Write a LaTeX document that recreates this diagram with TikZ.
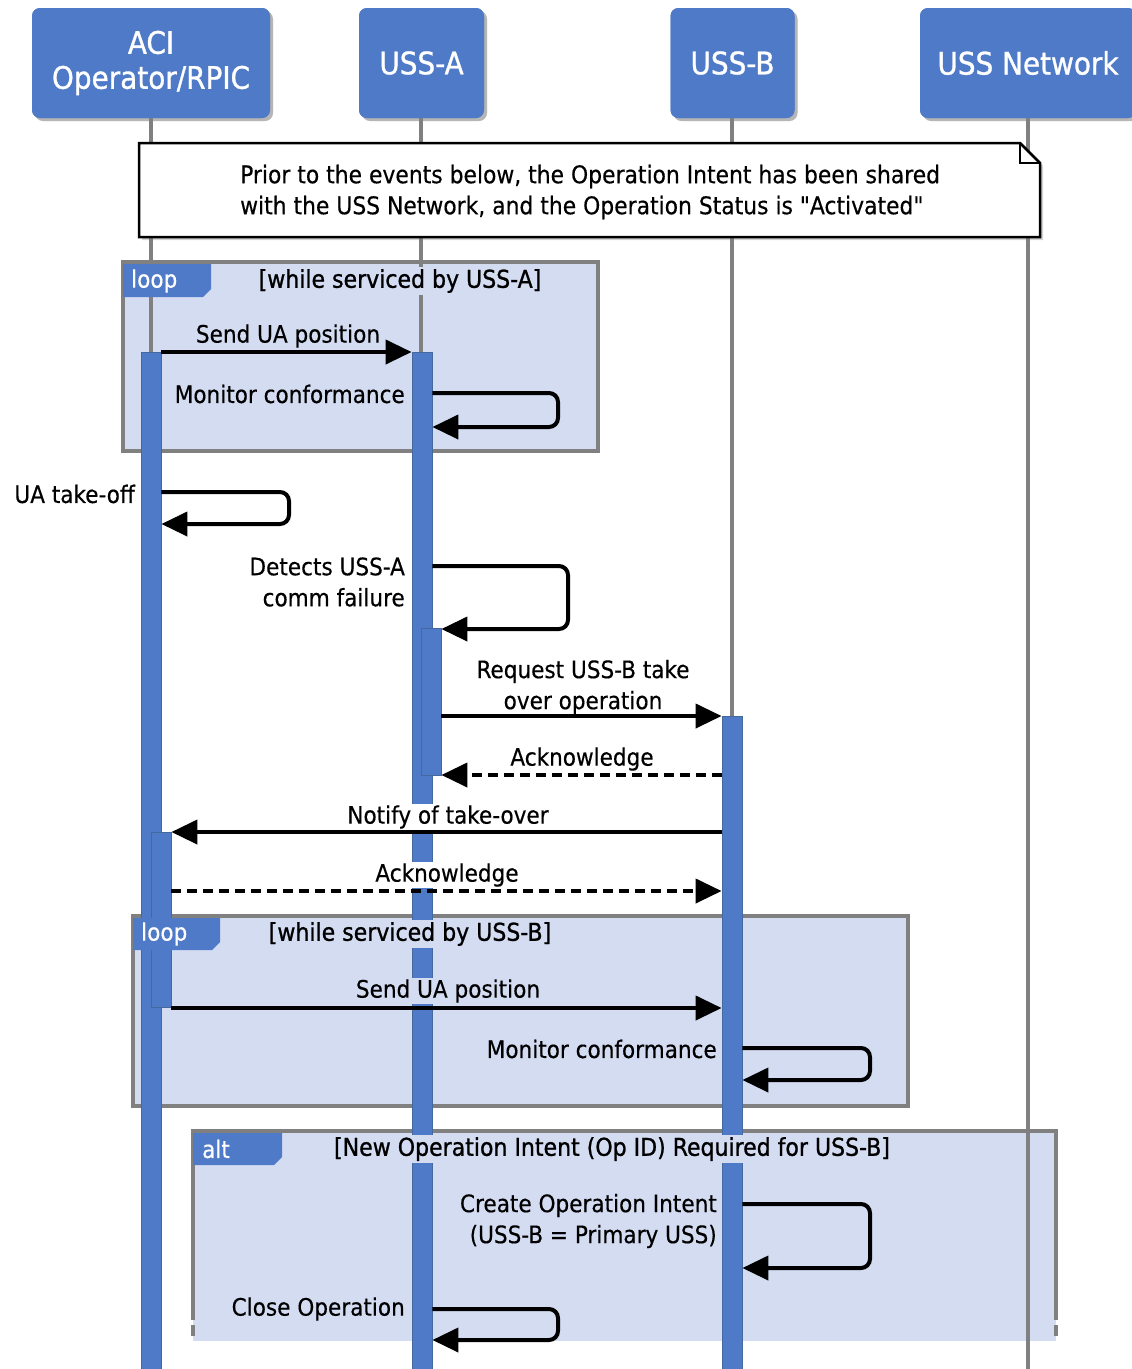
\documentclass[tikz,border=0pt]{standalone}
\usepackage{fontspec}
\setmainfont{DejaVu Sans Condensed}[FakeBold=0.4]
\newfontfamily\heavyfont{DejaVu Sans Condensed}[FakeBold=1]
\usetikzlibrary{arrows.meta,shadows}
\definecolor{partblue}{HTML}{4F7AC7}
\definecolor{bardraw}{HTML}{44699F}
\definecolor{framefill}{HTML}{D4DCF2}
\definecolor{lifegrey}{HTML}{808080}
% straight double quote, set as a glyph so that no ligature mapping touches it
\newcommand{\sdq}{\XeTeXglyph\XeTeXglyphindex "quotedbl"\relax}
\begin{document}
\begin{tikzpicture}[x=1pt,y=-1pt,
  participant/.style={fill=partblue, rounded corners=8pt, text=white,
    font=\heavyfont\fontsize{31}{35}\selectfont, align=center, minimum height=110pt,
    inner sep=0pt, drop shadow={shadow xshift=3pt,shadow yshift=-3pt,opacity=0.35}},
  lifeline/.style={draw=lifegrey, line width=4pt},
  actbar/.style={fill=partblue, draw=bardraw, line width=0.8pt, minimum width=20pt,
    inner sep=0pt, anchor=north},
  fragment/.style={fill=framefill, draw=lifegrey, line width=4pt},
  fragtab/.style={fill=partblue, draw=none},
  tabtext/.style={text=white, font=\fontsize{24}{28}\selectfont, anchor=west, inner sep=0pt},
  guard/.style={font=\heavyfont\fontsize{24.5}{28}\selectfont, fill=framefill, inner sep=2pt},
  msg/.style={line width=4pt, -{Triangle[length=26pt,width=24pt]}},
  reply/.style={msg, dash pattern=on 10pt off 6pt},
  selfmsg/.style={msg, rounded corners=9pt},
  lbl/.style={font=\fontsize{24}{31}\selectfont, inner sep=1pt, align=center},
  lblw/.style={lbl, fill=white},
  lblf/.style={lbl, fill=framefill},
  notetext/.style={font=\fontsize{24.3}{31}\selectfont, align=left, anchor=west, inner sep=0pt}
]
\useasboundingbox (0,0) rectangle (1132,1369);
\coordinate (bottom) at (0,1372);

% combined fragments
\draw[fragment] (123,262) rectangle (598,451);
\draw[fragment] (133,916) rectangle (908,1106);
\fill[framefill] (193,1131) rectangle (1056,1341);
\draw[lifegrey, line width=4pt] (193,1320) -- (193,1131) -- (1056,1131) -- (1056,1320);
\draw[lifegrey, line width=4pt] (193,1325) -- (193,1336) (1056,1325) -- (1056,1336);

% participants and lifelines
\node[participant, minimum width=238pt] (aci) at (151,63) {ACI\\Operator/RPIC};
\node[participant, minimum width=125pt] (ussa) at (421.5,63) {USS-A};
\node[participant, minimum width=124pt] (ussb) at (732.5,63) {USS-B};
\node[participant, minimum width=216pt] (net) at (1028,63) {USS Network};
\draw[lifeline] ([xshift=-0.5pt]aci.south) -- ([xshift=-0.5pt]aci.south |- bottom);
\draw[lifeline] ([xshift=-0.5pt]ussa.south) -- ([xshift=-0.5pt]ussa.south |- bottom);
\draw[lifeline] ([xshift=-0.5pt]ussb.south) -- ([xshift=-0.5pt]ussb.south |- bottom);
\draw[lifeline] (net.south) -- (net.south |- bottom);
% boxes again over the lifeline ends
\node[participant, minimum width=238pt] at (151,63) {ACI\\Operator/RPIC};
\node[participant, minimum width=125pt] at (421.5,63) {USS-A};
\node[participant, minimum width=124pt] at (732.5,63) {USS-B};
\node[participant, minimum width=216pt] at (1028,63) {USS Network};

% note
\filldraw[fill=white, draw=black, line width=2.5pt,
  drop shadow={shadow xshift=3pt,shadow yshift=-3pt,opacity=0.35}]
  (139,143) -- (1020,143) -- (1040,163) -- (1040,237) -- (139,237) -- cycle;
\draw[line width=1.5pt] (1020,143) -- (1020,163) -- (1040,163);
\node[notetext] (note) at (240,192) {Prior to the events below, the Operation Intent has been shared\\with the USS Network, and the Operation Status is \sdq Activated\sdq};

% activation bars
\node[actbar, minimum height=1020pt] (acibar) at (151,352) {};
\node[actbar, minimum height=1020pt] (ussabar) at (422,352) {};
\node[actbar, minimum height=147pt] (ussabarb) at (431,628) {};
\node[actbar, minimum height=656pt] (ussbbar) at (732,716) {};
\node[actbar, minimum height=175pt] (acibarb) at (161,832) {};

% fragment tabs and guards
\fill[fragtab] (123,264) -- (211,264) -- (211,289) -- (203,297) -- (123,297) -- cycle;
\node[tabtext] (tab1) at (131,281) {loop};
\node[guard] (guard1) at (400,281) {[while serviced by USS-A]};
\fill[fragtab] (133,918) -- (220,918) -- (220,942) -- (212,950) -- (133,950) -- cycle;
\node[tabtext] (tab2) at (141,934) {loop};
\node[guard] (guard2) at (410,934) {[while serviced by USS-B]};
\fill[fragtab] (193,1133) -- (282,1133) -- (282,1157) -- (274,1165) -- (193,1165) -- cycle;
\node[tabtext] (tab3) at (202,1149) {alt};
\node[guard] (guard3) at (612,1149) {[New Operation Intent (Op ID) Required for USS-B]};

% message rows
\coordinate (r1) at (0,352);
\coordinate (r2a) at (0,393);  \coordinate (r2b) at (0,427);
\coordinate (r3a) at (0,492);  \coordinate (r3b) at (0,524);
\coordinate (r4a) at (0,566);  \coordinate (r4b) at (0,629);
\coordinate (r5) at (0,716);
\coordinate (r6) at (0,775);
\coordinate (r7) at (0,832);
\coordinate (r8) at (0,891);
\coordinate (r9) at (0,1008);
\coordinate (r10a) at (0,1048); \coordinate (r10b) at (0,1080);
\coordinate (r11a) at (0,1204); \coordinate (r11b) at (0,1268);
\coordinate (r12a) at (0,1309); \coordinate (r12b) at (0,1340);

% messages
\draw[msg] (acibar.east |- r1) -- (ussabar.west |- r1);
\node[lblf] (l1) at (288,336) {Send UA position};

\draw[selfmsg] (ussabar.east |- r2a) -- (558,393) -- (558,427) -- (ussabar.east |- r2b);
\node[lbl, anchor=east] (l2) at (406,394) {Monitor conformance};

\draw[selfmsg] (acibar.east |- r3a) -- (289,492) -- (289,524) -- (acibar.east |- r3b);
\node[lbl, anchor=east] (l3) at (136,494) {UA take-off};

\draw[selfmsg] (ussabar.east |- r4a) -- (568,566) -- (568,629) -- (ussabarb.east |- r4b);
\node[lbl, anchor=east, align=right] (l4) at (406,582) {Detects USS-A\\comm failure};

\draw[msg] (ussabarb.east |- r5) -- (ussbbar.west |- r5);
\node[lbl] (l5) at (583,687) {Request USS-B take\\over operation};

\draw[reply] (ussbbar.west |- r6) -- (ussabarb.east |- r6);
\node[lblw] (l6) at (582,759) {Acknowledge};

\draw[msg] (ussbbar.west |- r7) -- (acibarb.east |- r7);
\node[lblw] (l7) at (448,817) {Notify of take-over};

\draw[reply] (acibarb.east |- r8) -- (ussbbar.west |- r8);
\node[lblw] (l8) at (447,875) {Acknowledge};

\draw[msg] (acibarb.east |- r9) -- (ussbbar.west |- r9);
\node[lblf] (l9) at (448,991) {Send UA position};

\draw[selfmsg] (ussbbar.east |- r10a) -- (870,1048) -- (870,1080) -- (ussbbar.east |- r10b);
\node[lbl, anchor=east] (l10) at (718,1049) {Monitor conformance};

\draw[selfmsg] (ussbbar.east |- r11a) -- (870,1204) -- (870,1268) -- (ussbbar.east |- r11b);
\node[lbl, anchor=east, align=right] (l11) at (718,1221) {Create Operation Intent\\(USS-B = Primary USS)};

\draw[selfmsg] (ussabar.east |- r12a) -- (558,1309) -- (558,1340) -- (ussabar.east |- r12b);
\node[lbl, anchor=east] (l12) at (406,1309) {Close Operation};
\end{tikzpicture}
\end{document}
